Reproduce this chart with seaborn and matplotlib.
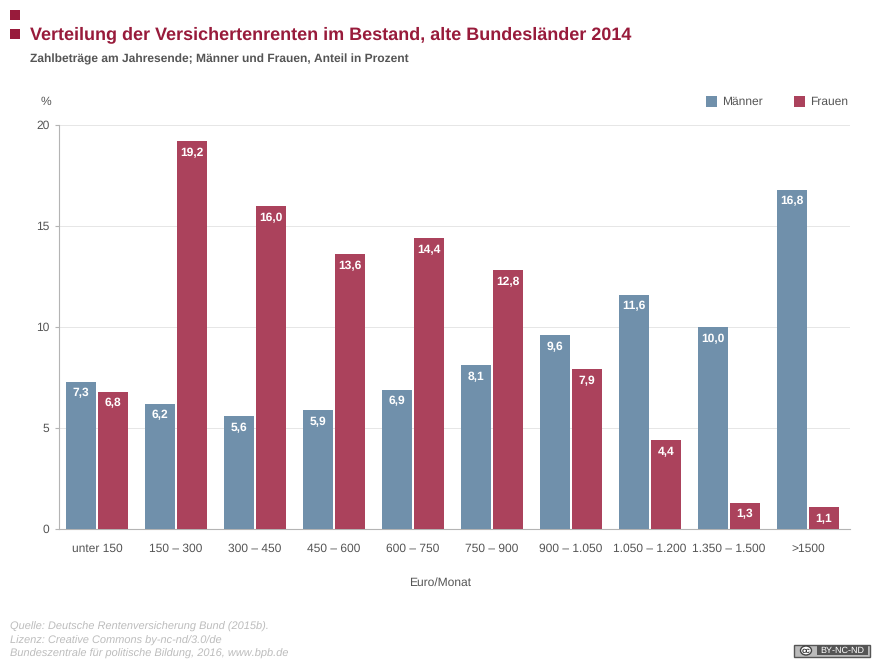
import matplotlib
matplotlib.use("Agg")
import matplotlib.pyplot as plt
from matplotlib.patches import Rectangle, Ellipse
import pandas as pd
import seaborn as sns

categories = ["unter 150", "150 – 300", "300 – 450", "450 – 600", "600 – 750",
              "750 – 900", "900 – 1.050", "1.050 – 1.200", "1.350 – 1.500", ">1500"]
maenner = [7.3, 6.2, 5.6, 5.9, 6.9, 8.1, 9.6, 11.6, 10.0, 16.8]
frauen = [6.8, 19.2, 16.0, 13.6, 14.4, 12.8, 7.9, 4.4, 1.3, 1.1]
yticks = [0, 5, 10, 15, 20]

W, H = 880, 667
BLUE, RED = "#7090AB", "#AB425C"
DARK = "#981B3B"
TXT = "#555555"
sns.set_theme(style="white")
plt.rcParams["font.family"] = ["Liberation Sans", "DejaVu Sans"]
plt.rcParams["text.hinting"] = "no_hinting"
plt.rcParams["text.hinting_factor"] = 1

df = pd.DataFrame({"Kategorie": categories * 2,
                   "Anteil": maenner + frauen,
                   "Geschlecht": ["Männer"] * 10 + ["Frauen"] * 10})

fig = plt.figure(figsize=(W / 100, H / 100), dpi=100, facecolor="white")
ax = fig.add_axes([58.5 / W, 1 - 529 / H, (850 - 58.5) / W, 404 / H])
sns.barplot(data=df, x="Kategorie", y="Anteil", hue="Geschlecht", order=categories,
            hue_order=["Männer", "Frauen"], palette=[BLUE, RED], width=0.81, gap=0.0625,
            saturation=1, legend=False, ax=ax, zorder=3, linewidth=0)
ax.set_xlim(-0.487, 9.532)
ax.set_ylim(0, 20)
ax.set_yticks(yticks)
ax.set_xlabel("")
ax.set_ylabel("")
ax.grid(axis="y", color="#E6E6E6", lw=0.7)
ax.set_axisbelow(True)
for s in ("top", "right"):
    ax.spines[s].set_visible(False)
for s in ("left", "bottom"):
    ax.spines[s].set_color("#B4B4B4")
    ax.spines[s].set_linewidth(0.8)
ax.tick_params(axis="y", left=True, length=3, width=0.8, color="#B4B4B4",
               labelsize=8.64, labelcolor=TXT, pad=3.5)
ax.tick_params(axis="x", bottom=False, labelsize=8.64, labelcolor=TXT, pad=4)

for cont in ax.containers:
    labels = [f"{b.get_height():.1f}".replace(".", ",") for b in cont]
    ax.bar_label(cont, labels=labels, label_type="edge", padding=-12.5, color="white",
                 fontsize=8.64, fontweight="bold")

def T(x, y, s, **kw):
    fig.text(x / W, 1 - y / H, s, va="center", **kw)

for y0 in (10, 29):
    fig.add_artist(Rectangle((10 / W, 1 - (y0 + 10) / H), 10 / W, 10 / H,
                             transform=fig.transFigure, fc=DARK, ec="none"))
T(30, 35, "Verteilung der Versichertenrenten im Bestand, alte Bundesländer 2014",
  color=DARK, fontsize=12.95, fontweight="bold")
T(30, 59, "Zahlbeträge am Jahresende; Männer und Frauen, Anteil in Prozent",
  color=TXT, fontsize=8.64, fontweight="bold")
T(40.5, 102, "%", color=TXT, fontsize=8.64)
T(440, 582.5, "Euro/Monat", color=TXT, fontsize=8.64, ha="center")
T(10, 627, "Quelle: Deutsche Rentenversicherung Bund (2015b).", color="#BDBDBD", fontsize=7.92, style="italic")
T(10, 641, "Lizenz: Creative Commons by-nc-nd/3.0/de", color="#BDBDBD", fontsize=7.92, style="italic")
T(10, 654, "Bundeszentrale für politische Bildung, 2016, www.bpb.de", color="#BDBDBD", fontsize=7.92, style="italic")

for x, c, s in ((706, BLUE, "Männer"), (794, RED, "Frauen")):
    fig.add_artist(Rectangle((x / W, 1 - 107 / H), 11 / W, 11 / H,
                             transform=fig.transFigure, fc=c, ec="none"))
    T(x + 16.5, 102, s, color=TXT, fontsize=8.64)

# CC badge
fig.add_artist(Rectangle((793.5 / W, 1 - 656.5 / H), 76 / W, 12 / H, transform=fig.transFigure,
                         fc="#BBBBBB", ec="#555555", lw=1))
fig.add_artist(Rectangle((817 / W, 1 - 655 / H), 51 / W, 9 / H, transform=fig.transFigure,
                         fc="#555555", ec="none"))
fig.add_artist(Ellipse((806 / W, 1 - 650.5 / H), 11 / W, 9 / H, transform=fig.transFigure,
                       fc="white", ec="#444444", lw=1))
T(806, 650.5, "cc", color="#333333", fontsize=6, fontweight="bold", ha="center")
T(842.5, 650.5, "BY-NC-ND", color="white", fontsize=6.5, ha="center")

fig.savefig("out.png", dpi=100, facecolor="white")
